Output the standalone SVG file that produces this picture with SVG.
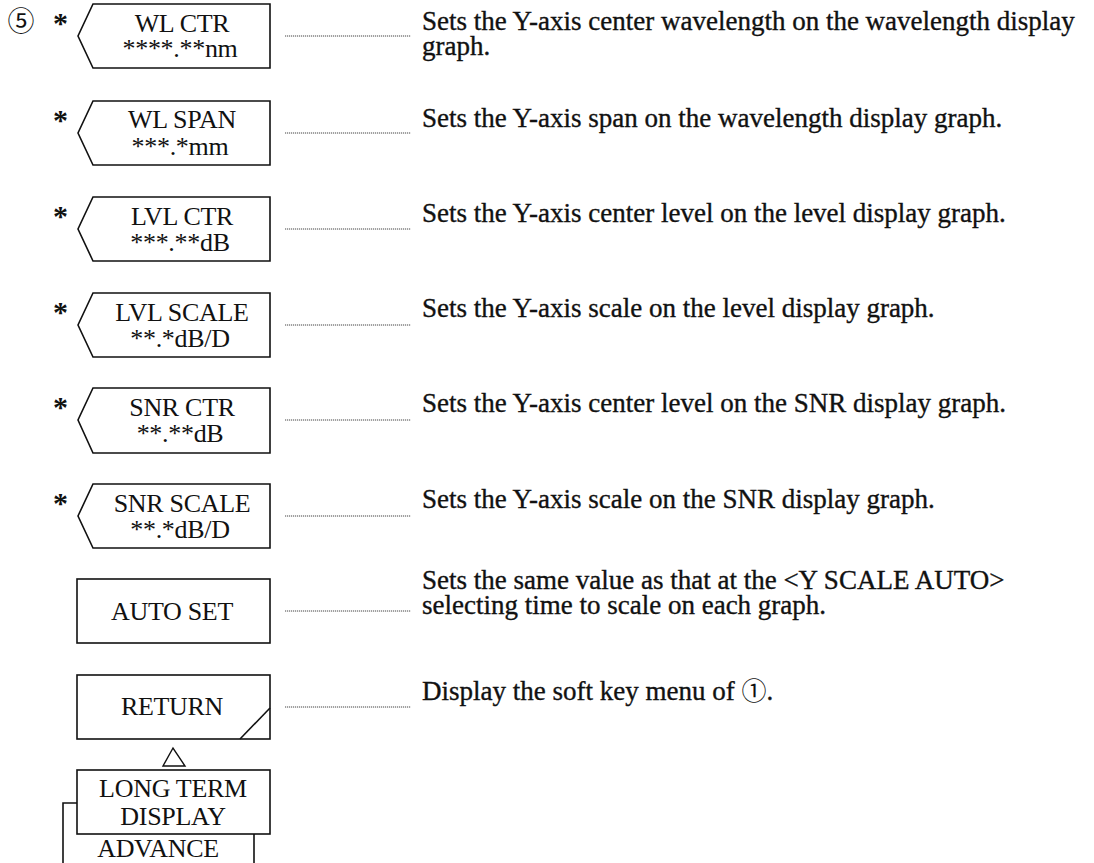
<svg xmlns="http://www.w3.org/2000/svg" width="1094" height="863" viewBox="0 0 1094 863">
<style>
.box{fill:#fff;stroke:#111;stroke-width:1.6}
.key{font-family:"Liberation Serif","Times New Roman",serif;font-size:26px;fill:#111;text-anchor:middle;letter-spacing:-0.3px}
.desc{font-family:"Liberation Serif","Times New Roman","Noto Sans CJK JP",serif;font-size:27px;fill:#111;stroke:#111;stroke-width:0.35}
.star{font-family:"Liberation Serif",serif;font-size:30px;font-weight:bold;fill:#111}
.dot{stroke:#444;stroke-width:1;stroke-dasharray:1.2 0.8;fill:none}
</style>
<rect width="1094" height="863" fill="#fff"/>
<text x="21" y="31" font-family="Noto Sans CJK JP,sans-serif" font-size="27" text-anchor="middle" fill="#111">⑤</text>

<g id="wl-ctr">
<text class="star" x="53" y="33">*</text>
<path class="box" d="M93,4 H270 V68 H93 L78,36 Z"/>
<text class="key" x="182" y="32">WL CTR</text>
<text class="key" x="180" y="57">****.**nm</text>
</g>
<g id="wl-span">
<text class="star" x="53" y="130">*</text>
<path class="box" d="M93,101 H270 V165 H93 L78,133 Z"/>
<text class="key" x="182" y="128">WL SPAN</text>
<text class="key" x="180" y="155">***.*mm</text>
</g>
<g id="lvl-ctr">
<text class="star" x="53" y="226">*</text>
<path class="box" d="M93,197 H270 V261 H93 L78,229 Z"/>
<text class="key" x="182" y="225">LVL CTR</text>
<text class="key" x="180" y="251">***.**dB</text>
</g>
<g id="lvl-scale">
<text class="star" x="53" y="322">*</text>
<path class="box" d="M93,293 H270 V357 H93 L78,325 Z"/>
<text class="key" x="182" y="321">LVL SCALE</text>
<text class="key" x="180" y="347">**.*dB/D</text>
</g>
<g id="snr-ctr">
<text class="star" x="53" y="417">*</text>
<path class="box" d="M93,388 H270 V453 H93 L78,420 Z"/>
<text class="key" x="182" y="416">SNR CTR</text>
<text class="key" x="180" y="442">**.**dB</text>
</g>
<g id="snr-scale">
<text class="star" x="53" y="513">*</text>
<path class="box" d="M93,484 H270 V548 H93 L78,516 Z"/>
<text class="key" x="182" y="512">SNR SCALE</text>
<text class="key" x="180" y="538">**.*dB/D</text>
</g>
<g id="auto-set">
<rect class="box" x="77" y="579" width="193" height="64"/>
<text class="key" x="172" y="620">AUTO SET</text>
</g>
<g id="return">
<rect class="box" x="77" y="675" width="193" height="64"/>
<line x1="240" y1="739" x2="270" y2="708" stroke="#111" stroke-width="1.6"/>
<text class="key" x="172" y="715">RETURN</text>
</g>
<g id="advance">
<path d="M63,870 V803 H254 V870" fill="#fff" stroke="#111" stroke-width="1.6"/>
<text class="key" x="158" y="857">ADVANCE</text>
</g>
<g id="long-term-display">
<rect class="box" x="77" y="770" width="193" height="64"/>
<text class="key" x="173" y="797">LONG TERM</text>
<text class="key" x="173" y="825">DISPLAY</text>
</g>

<g id="connectors">
<path d="M173,748 L163,766 H185 Z" fill="none" stroke="#111" stroke-width="1.4"/>
<line class="dot" x1="285" y1="36" x2="411" y2="36"/>
<line class="dot" x1="285" y1="133" x2="411" y2="133"/>
<line class="dot" x1="285" y1="229" x2="411" y2="229"/>
<line class="dot" x1="285" y1="325" x2="411" y2="325"/>
<line class="dot" x1="285" y1="420" x2="411" y2="420"/>
<line class="dot" x1="285" y1="516" x2="411" y2="516"/>
<line class="dot" x1="285" y1="611" x2="411" y2="611"/>
<line class="dot" x1="285" y1="707" x2="411" y2="707"/>
</g>

<g id="descriptions">
<text class="desc" x="422" y="30">Sets the Y-axis center wavelength on the wavelength display</text>
<text class="desc" x="422" y="55">graph.</text>
<text class="desc" x="422" y="127">Sets the Y-axis span on the wavelength display graph.</text>
<text class="desc" x="422" y="222">Sets the Y-axis center level on the level display graph.</text>
<text class="desc" x="422" y="317">Sets the Y-axis scale on the level display graph.</text>
<text class="desc" x="422" y="412">Sets the Y-axis center level on the SNR display graph.</text>
<text class="desc" x="422" y="508">Sets the Y-axis scale on the SNR display graph.</text>
<text class="desc" x="422" y="589">Sets the same value as that at the &lt;Y SCALE AUTO&gt;</text>
<text class="desc" x="422" y="614">selecting time to scale on each graph.</text>
<text class="desc" x="422" y="700">Display the soft key menu of <tspan font-family="Noto Sans CJK JP,sans-serif" font-size="25" stroke-width="0">①</tspan>.</text>
</g>
</svg>
